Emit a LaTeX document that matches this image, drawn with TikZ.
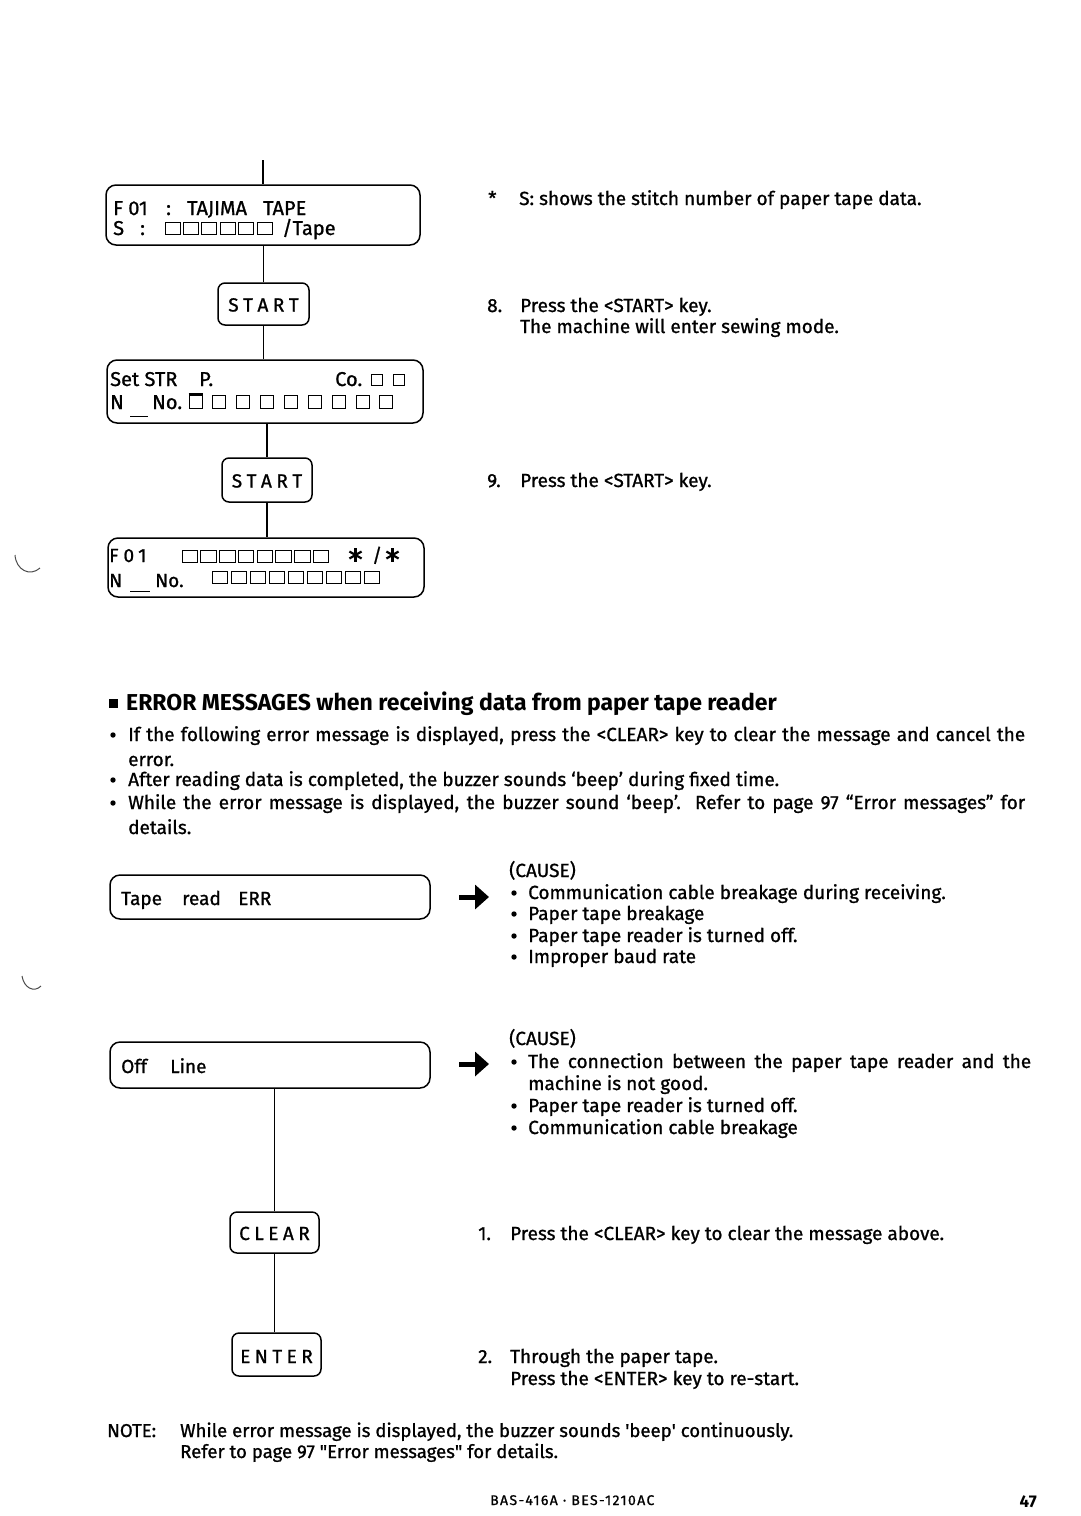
\documentclass[tikz,border=0pt]{standalone}
\usepackage{fontspec}
\setmainfont{Fira Sans}[UprightFeatures={FakeBold=1.0}]
\newfontfamily\nolig{Fira Sans}[Ligatures=TeXOff,FakeBold=1.0]
\usetikzlibrary{arrows.meta}
\begin{document}
\begin{tikzpicture}[x=1pt,y=-1pt,
  disp/.style={draw,line width=1.5pt,rounded corners=10pt,inner sep=0pt},
  keybox/.style={draw,line width=1.5pt,rounded corners=7pt,inner sep=0pt},
  conn/.style={line width=1.4pt},
  sqr/.style={line width=1pt},
  txt/.style={anchor=base west,inner sep=0pt,font=\fontsize{19}{22}\selectfont},
  ntxt/.style={anchor=base west,inner sep=0pt,font=\fontsize{18.6}{22}\selectfont},
  dtxt/.style={anchor=base west,inner sep=0pt,font=\fontsize{20}{22}\selectfont},
  etxt/.style={anchor=base west,inner sep=0pt,font=\fontsize{19}{22}\selectfont},
  ktxt/.style={anchor=base,inner sep=0pt,font=\fontsize{19}{22}\selectfont},
  bigarrow/.style={line width=5pt,-{Triangle[length=14pt,width=24pt]}},
  scan/.style={line width=1pt,black!70}]
\fill[white] (0,0) rectangle (1080,1516);
\useasboundingbox (0,0) rectangle (1080,1516);
\newcommand\bul[2]{\fill (#1+4,#2-6) circle (2.7pt);}

% ---------- display / key boxes ----------
\node[disp,minimum width=314pt,minimum height=60pt] (b1) at (263,215) {};
\node[keybox,minimum width=91pt,minimum height=42pt] (s1) at (263.5,304) {};
\node[disp,minimum width=316pt,minimum height=63pt] (b2) at (265,391.5) {};
\node[keybox,minimum width=90pt,minimum height=44pt] (s2) at (267,480) {};
\node[disp,minimum width=316pt,minimum height=59pt] (b3) at (266,567.5) {};
\node[disp,minimum width=320pt,minimum height=44pt] (e1) at (270,897) {};
\node[disp,minimum width=320pt,minimum height=46pt] (e2) at (270,1065) {};
\node[keybox,minimum width=89pt,minimum height=41pt] (kc) at (274.5,1232.5) {};
\node[keybox,minimum width=89pt,minimum height=43pt] (ke) at (276.5,1354.5) {};

% ---------- connectors ----------
\coordinate (top) at (263,160);
\draw[conn] (top) -- (b1.north);
\draw[conn] (s1.north) -- (s1.north |- b1.south);
\draw[conn] (s1.south) -- (s1.south |- b2.north);
\draw[conn] (s2.north) -- (s2.north |- b2.south);
\draw[conn] (s2.south) -- (s2.south |- b3.north);
\draw[conn] (kc.north) -- (kc.north |- e2.south);
\draw[conn] (kc.south) -- (kc.south |- ke.north);

% ---------- box 1 ----------
\node[dtxt] (b1a) at (113,215) {F 01};
\node[dtxt] (b1b) at (166,215) {:};
\node[dtxt] (b1c) at (187,215) {TAJIMA};
\node[dtxt] (b1d) at (263,215) {TAPE};
\node[dtxt] (b1e) at (113,235) {S};
\node[dtxt] (b1f) at (140,235) {:};
\foreach \i in {0,...,5} \draw[sqr] (165+\i*18.4,222) rectangle ++(15,12);
\node[dtxt] (b1g) at (282,235) {/Tape};

% ---------- key START 1 ----------
\node[ktxt] (s1t) at (263.5,311.5) {S\kern4.5pt T\kern4.5pt A\kern4.5pt R\kern4.5pt T};

% ---------- box 2 ----------
\node[dtxt] (b2a) at (110,386) {Set STR};
\node[dtxt] (b2b) at (199,386) {P.};
\node[dtxt] (b2c) at (335,386) {Co.};
\draw[sqr] (371,374) rectangle ++(11,11);
\draw[sqr] (393,374) rectangle ++(11,11);
\node[dtxt] (b2d) at (110,409) {N};
\draw[sqr] (130,416) -- (148,416);
\node[dtxt] (b2e) at (152,409) {No.};
\foreach \x in {189,212,236,260,284,308,332,356,379} \draw[sqr] (\x,395) rectangle ++(13,13);
\draw[line width=2.2pt] (188.5,394) -- (202.5,394);

% ---------- key START 2 ----------
\node[ktxt] (s2t) at (267,487.5) {S\kern4.5pt T\kern4.5pt A\kern4.5pt R\kern4.5pt T};

% ---------- box 3 ----------
\node[etxt] (b3a) at (109,562) {F\kern5pt 0\kern4pt 1};
\foreach \i in {0,...,7} \draw[sqr] (182+\i*18.75,550) rectangle ++(15.5,12);
\foreach \cx in {355.5,392.5} {
  \draw[line width=2.2pt] (\cx,548) -- (\cx,562);
  \draw[line width=2.2pt] (\cx-6.1,551.5) -- (\cx+6.1,558.5);
  \draw[line width=2.2pt] (\cx-6.1,558.5) -- (\cx+6.1,551.5);
}
\node[etxt] (b3b) at (372,562) {/};
\node[etxt] (b3c) at (109,587) {N};
\draw[sqr] (130,591) -- (150,591);
\node[etxt] (b3d) at (155,587) {No.};
\foreach \i in {0,...,8} \draw[sqr] (212+\i*19,571) rectangle ++(15.5,12);

% ---------- right column, upper ----------
\node[txt] (r0a) at (488,205) {*};
\node[txt] (r0b) at (519,205) {S: shows the stitch number of paper tape data.};
\node[txt] (r1a) at (487,312) {8.};
\node[txt] (r1b) at (520,312) {Press the <START> key.};
\node[txt] (r1c) at (520,333) {The machine will enter sewing mode.};
\node[txt] (r2a) at (487,487) {9.};
\node[txt] (r2b) at (520,487) {Press the <START> key.};

% ---------- heading and bullets ----------
\fill (109,699) rectangle (118,708);
\node[anchor=base west,inner sep=0pt,font=\fontsize{23}{26}\selectfont\bfseries] (hd) at (126,710) {ERROR MESSAGES when receiving data from paper tape reader};
\bul{109}{741}
\node[txt] (p1) at (128,741) {\makebox[897pt][s]{If the following error message is displayed, press the <CLEAR> key to clear the message and cancel the}};
\node[txt] (p1b) at (128,766) {error.};
\bul{109}{786}
\node[txt] (p2) at (128,786) {After reading data is completed, the buzzer sounds ‘beep’ during fixed time.};
\bul{109}{809}
\node[txt] (p3) at (128,809) {\makebox[897pt][s]{While the error message is displayed, the buzzer sound ‘beep’.\ \ Refer to page 97 “Error messages” for}};
\node[txt] (p3b) at (128,834) {details.};

% ---------- error 1 ----------
\node[etxt] (e1a) at (121,905) {Tape};
\node[etxt] (e1b) at (182,905) {read};
\node[etxt] (e1c) at (238,905) {ERR};
\coordinate (a1s) at (459,897);
\coordinate (a1e) at (489,897);
\draw[bigarrow] (a1s) -- (a1e);
\node[txt] (c1) at (509,877) {(CAUSE)};
\bul{510}{899}
\node[txt] (c1t1) at (528,899) {Communication cable breakage during receiving.};
\bul{510}{920}
\node[txt] (c1t2) at (528,920) {Paper tape breakage};
\bul{510}{942}
\node[txt] (c1t3) at (528,942) {Paper tape reader is turned off.};
\bul{510}{963}
\node[txt] (c1t4) at (528,963) {Improper baud rate};

% ---------- error 2 ----------
\node[etxt] (e2a) at (121,1073) {Off};
\node[etxt] (e2b) at (170,1073) {Line};
\coordinate (a2s) at (459,1064);
\coordinate (a2e) at (489,1064);
\draw[bigarrow] (a2s) -- (a2e);
\node[txt] (c2) at (509,1045) {(CAUSE)};
\bul{510}{1068}
\node[txt] (c2t1) at (528,1068) {\makebox[503pt][s]{The connection between the paper tape reader and the}};
\node[txt] (c2t1b) at (528,1090) {machine is not good.};
\bul{510}{1112}
\node[txt] (c2t2) at (528,1112) {Paper tape reader is turned off.};
\bul{510}{1134}
\node[txt] (c2t3) at (528,1134) {Communication cable breakage};

% ---------- CLEAR / ENTER ----------
\node[ktxt] (kct) at (274.5,1240) {C\kern4.5pt L\kern4.5pt E\kern4.5pt A\kern4.5pt R};
\node[ktxt] (ket) at (276.5,1363) {E\kern4.5pt N\kern4.5pt T\kern4.5pt E\kern4.5pt R};
\node[txt] (q1a) at (478,1240) {1.};
\node[txt] (q1b) at (510,1240) {Press the <CLEAR> key to clear the message above.};
\node[txt] (q2a) at (478,1363) {2.};
\node[txt] (q2b) at (510,1363) {Through the paper tape.};
\node[txt] (q2c) at (510,1385) {Press the <ENTER> key to re-start.};

% ---------- note & footer ----------
\node[ntxt] (n1) at (107,1437) {NOTE:};
\node[ntxt] (n2) at (180,1437) {While error message is displayed, the buzzer sounds \textquotesingle beep\textquotesingle\ continuously.};
\node[ntxt] (n3) at (180,1458) {Refer to page 97 {\nolig"}Error messages{\nolig"} for details.};
\node[anchor=base west,inner sep=0pt,font=\fontsize{14}{16}\selectfont\addfontfeatures{LetterSpace=10}] (ft) at (490,1505) {BAS-416A · BES-1210AC};
\node[anchor=base east,inner sep=0pt,font=\fontsize{17}{20}\selectfont\bfseries] (pg) at (1037,1507) {47};

% ---------- scan marks ----------
\draw[scan] (15,555) .. controls (16,570) and (30,577) .. (40,568);
\draw[scan] (22,976) .. controls (24,988) and (34,993) .. (41,986);
\end{tikzpicture}
\end{document}
